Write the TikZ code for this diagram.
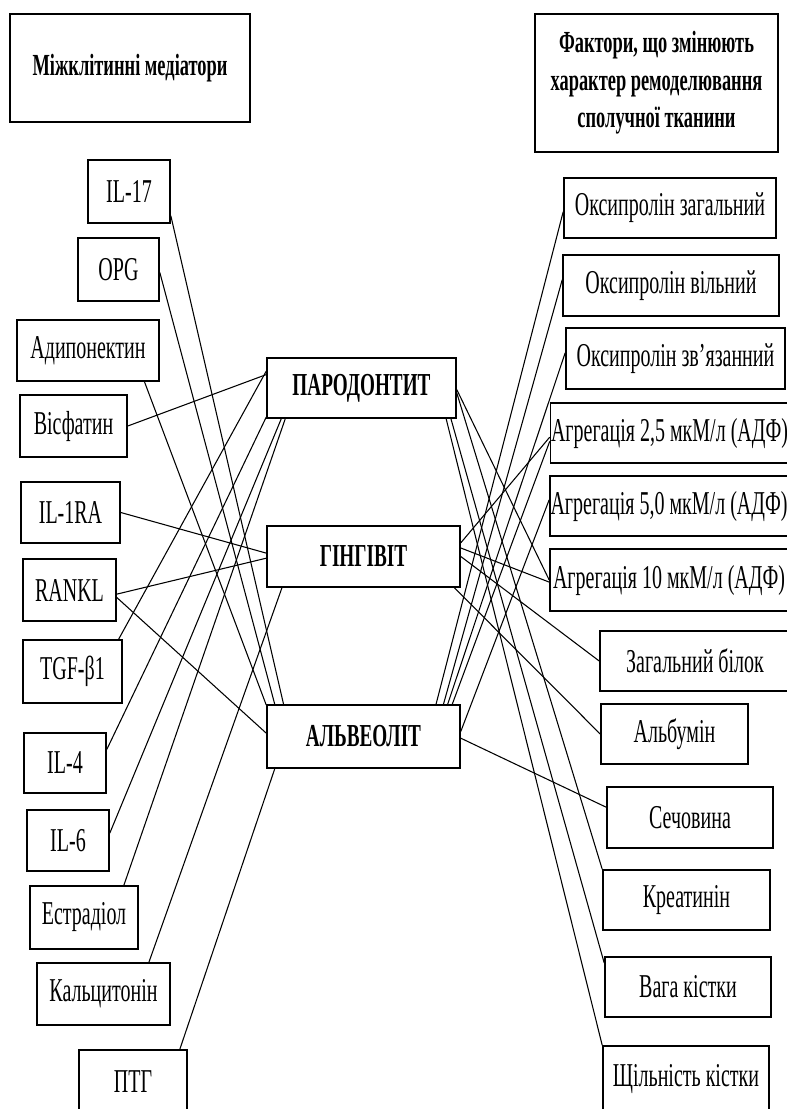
\documentclass[tikz,border=0pt]{standalone}
\usepackage{fontspec}
\setmainfont{Liberation Serif}[FakeStretch=0.6]
\begin{document}
\begin{tikzpicture}[x=0.75pt, y=-0.75pt,
    wh/.style 2 args={minimum width=#1*0.75pt, minimum height=#2*0.75pt},
    box/.style={draw, line width=1.2pt, inner sep=0pt, font=\fontsize{25}{30}\selectfont},
    hbox/.style={box, align=center, font=\bfseries\fontsize{23}{28}\selectfont},
    dbox/.style={box, font=\bfseries\fontsize{24}{28}\selectfont},
    link/.style={line width=0.8pt}]
    \useasboundingbox (0,0) rectangle (786,1109);

    % Headers
    \node[hbox, wh={240}{108}] (lhead) at (130,68) {Міжклітинні медіатори};
    \node[hbox, wh={243}{138}] (rhead) at (656.5,83) {Фактори, що змінюють\\характер ремоделювання\\сполучної тканини};

    % Mediators
    \node[box, wh={82}{63}] (il17) at (129,191.5) {IL-17};
    \node[box, wh={81}{63}] (opg) at (118.5,269.5) {OPG};
    \node[box, wh={142}{61}] (adipo) at (88,350.5) {Адипонектин};
    \node[box, wh={107}{62}] (visf) at (73.5,426) {Вісфатин};
    \node[box, wh={99}{61}] (il1ra) at (70.5,512.5) {IL-1RA};
    \node[box, wh={93}{62}] (rankl) at (69.5,590) {RANKL};
    \node[box, wh={99}{63}] (tgf) at (72.5,671.5) {TGF-β1};
    \node[box, wh={82}{60}] (il4) at (65,763) {IL-4};
    \node[box, wh={82}{61}] (il6) at (68,840.5) {IL-6};
    \node[box, wh={108}{63}] (estr) at (84,917.5) {Естрадіол};
    \node[box, wh={133}{62}] (calc) at (103.5,994) {Кальцитонін};
    \node[box, wh={108}{64}] (ptg) at (133,1082) {ПТГ};

    % Diseases
    \node[dbox, wh={189}{60}] (par) at (361.5,388) {ПАРОДОНТИТ};
    \node[dbox, wh={193}{61}] (gin) at (363.5,556.5) {ГІНГІВІТ};
    \node[dbox, wh={193}{63}] (alv) at (363.5,736.5) {АЛЬВЕОЛІТ};

    % Remodelling factors
    \node[box, wh={212}{60}] (oxz) at (670,208) {Оксипролін загальний};
    \node[box, wh={216}{61}] (oxv) at (671,285.5) {Оксипролін вільний};
    \node[box, wh={219}{61}] (oxb) at (675.5,358.5) {Оксипролін зв’язанний};
    \node[box, wh={238}{60}] (ag25) at (669.5,433) {Агрегація 2,5 мкМ/л (АДФ)};
    \node[box, wh={238}{60}] (ag50) at (669,506) {Агрегація 5,0 мкМ/л (АДФ)};
    \node[box, wh={238}{62}] (ag10) at (669,580) {Агрегація 10 мкМ/л (АДФ)};
    \node[box, wh={190}{60}] (zb) at (695,661) {Загальний білок};
    \node[box, wh={147}{60}] (alb) at (674.5,734) {Альбумін};
    \node[box, wh={166}{61}] (sech) at (690,817.5) {Сечовина};
    \node[box, wh={167}{60}] (kreat) at (686.5,900) {Креатинін};
    \node[box, wh={166}{60}] (vaga) at (688,987) {Вага кістки};
    \node[box, wh={166}{66}] (shch) at (686,1079) {Щільність кістки};

    % Left links
    \draw[link] (il17.-30) -- (alv.158);
    \draw[link] (opg.-4) -- (alv.160);
    \draw[link] (adipo.-29) -- (alv.162);
    \draw[link] (visf.east) -- (par.172);
    \draw[link] (tgf.35) -- (par.170);
    \draw[link] (il4.18) -- (par.197);
    \draw[link] (il6.10) -- (par.201);
    \draw[link] (estr.39) -- (par.202);
    \draw[link] (il1ra.east) -- (gin.178);
    \draw[link] (rankl.-5) -- (gin.181);
    \draw[link] (rankl.-9) -- (alv.178);
    \draw[link] (calc.35) -- (gin.201);
    \draw[link] (ptg.35) -- (alv.200);

    % Right links
    \draw[link] (par.-1) -- (ag10.west);
    \draw[link] (par.-3) -- (kreat.north west);
    \draw[link] (par.-19) -- (vaga.164);
    \draw[link] (par.-20) -- (shch.north west);
    \draw[link] (gin.8) -- (ag25.182);
    \draw[link] (gin.5) -- (ag10.181);
    \draw[link] (gin.-0.5) -- (zb.west);
    \draw[link] (gin.-19) -- (alb.west);
    \draw[link] (alv.24.7) -- (oxz.182);
    \draw[link] (alv.22.9) -- (oxv.177);
    \draw[link] (alv.21.4) -- (oxb.177);
    \draw[link] (alv.20) -- (ag25.184);
    \draw[link] (alv.3) -- (ag50.177);
    \draw[link] (alv.-1) -- (sech.173);
\end{tikzpicture}
\end{document}
